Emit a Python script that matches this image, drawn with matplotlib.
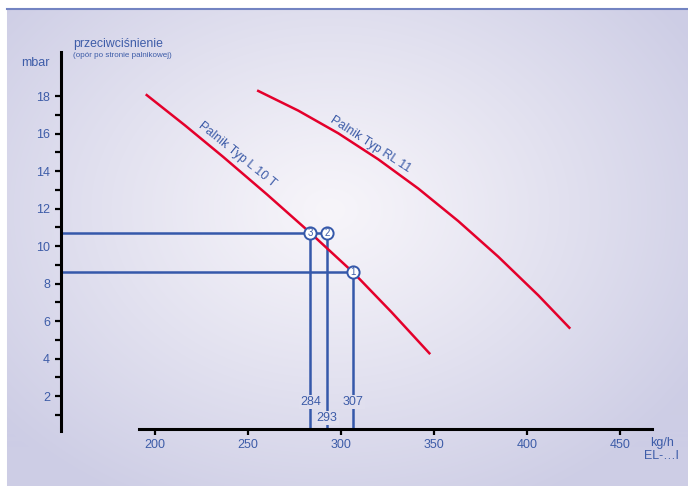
import numpy as np
import matplotlib.pyplot as plt

# curve data (flow kg/h, back pressure mbar)
l10t_flow = [195.6, 216.2, 236.7, 260.2, 283.7, 306.6, 327.0, 347.4]
l10t_mbar = [18.05, 16.43, 14.75, 12.75, 10.68, 8.58, 6.48, 4.28]
rl11_flow = [255.5, 277.0, 298.5, 320.0, 341.5, 362.9, 384.4, 405.9, 422.6]
rl11_mbar = [18.27, 17.22, 16.01, 14.62, 13.06, 11.33, 9.43, 7.37, 5.64]

# operating points
op_num = ["1", "2", "3"]
op_flow = [306.5, 292.5, 283.5]
op_mbar = [8.6, 10.68, 10.68]
op_text = ["307", "293", "284"]
op_text_y = [1.68, 0.83, 1.68]

x_ticks = [200, 250, 300, 350, 400, 450]
y_ticks = [2, 4, 6, 8, 10, 12, 14, 16, 18]
y_minor = [1, 3, 5, 7, 9, 11, 13, 15, 17]

W, H = 688, 486
blue_txt = "#3d5ca8"
blue_ln = "#3558aa"
red = "#e4002b"

plt.rcParams['font.family'] = ['Liberation Sans', 'DejaVu Sans']

fig = plt.figure(figsize=(W / 100, H / 100), dpi=100)

# background gradient
bg = fig.add_axes([0, 0, 1, 1])
yy, xx = np.mgrid[0:H, 0:W]
r = np.sqrt(((xx - 330) / 430.0) ** 2 + ((yy - 210) / 330.0) ** 2)
t = np.clip(r, 0, 1) ** 1.1
c0 = np.array([247, 245, 250]) / 255.0
c1 = np.array([205, 205, 229]) / 255.0
img = c0[None, None, :] * (1 - t[..., None]) + c1[None, None, :] * t[..., None]
img[:9, :, :] = 1.0
img[:, :7, :] = 1.0
bg.imshow(img, extent=(0, W, H, 0), aspect='auto', interpolation='bilinear')
bg.plot([7, W], [9.5, 9.5], color="#7384c2", lw=1.5)
bg.set_xlim(0, W)
bg.set_ylim(H, 0)
bg.axis('off')

# main axes mapped to pixel coordinates
ax = fig.add_axes([0, 0, 1, 1])
ax.patch.set_visible(False)
px_per_x = 1.862
px_per_y = 18.75
ax.set_xlim(200 - 154.9 / px_per_x, 200 + (W - 154.9) / px_per_x)
ax.set_ylim(-(H - 433.5) / px_per_y, 433.5 / px_per_y)

for s in ['top', 'right']:
    ax.spines[s].set_visible(False)
ax.spines['left'].set_position(('data', 149.6))
ax.spines['left'].set_bounds(0.15, 20.35)
ax.spines['bottom'].set_position(('data', 0.25))
ax.spines['bottom'].set_bounds(191.4, 467.0)
ax.spines['left'].set_linewidth(2.2)
ax.spines['bottom'].set_linewidth(2.2)

ax.set_xticks(x_ticks)
ax.set_yticks(y_ticks)
ax.set_yticks(y_minor, minor=True)
ax.tick_params(axis='both', which='both', direction='out', length=4,
               width=1.6, color='black', labelcolor=blue_txt, labelsize=9)
ax.tick_params(axis='y', pad=4)
ax.tick_params(axis='x', pad=3)

# curves
ax.plot(l10t_flow, l10t_mbar, color=red, lw=1.8, zorder=3, solid_joinstyle='round')
ax.plot(rl11_flow, rl11_mbar, color=red, lw=1.8, zorder=3, solid_joinstyle='round')
ax.text(244.0, 14.85, "Palnik Typ L 10 T", color=blue_txt, fontsize=9,
        rotation=-39, ha='center', va='center', rotation_mode='anchor')
ax.text(315.5, 15.4, "Palnik Typ RL 11", color=blue_txt, fontsize=9,
        rotation=-33, ha='center', va='center', rotation_mode='anchor')

# operating point guide lines
ax.plot([149.6, op_flow[1]], [op_mbar[1], op_mbar[1]], color=blue_ln, lw=1.8, zorder=2)
ax.plot([149.6, op_flow[0]], [op_mbar[0], op_mbar[0]], color=blue_ln, lw=1.8, zorder=2)
for i in range(3):
    ax.plot([op_flow[i], op_flow[i]], [0.25, op_mbar[i]], color=blue_ln, lw=1.8, zorder=2)
    ax.text(op_flow[i], op_text_y[i], op_text[i], color=blue_txt, fontsize=9,
            ha='center', va='center', zorder=4,
            bbox=dict(boxstyle='square,pad=0.08', fc='#e0dfee', ec='none'))
ax.plot(op_flow, op_mbar, 'o', ms=8.8, mfc='white', mec=blue_ln, mew=1.4,
        ls='none', zorder=5)
for i in range(3):
    ax.text(op_flow[i], op_mbar[i], op_num[i], color=blue_txt, fontsize=7,
            ha='center', va='center', zorder=6)

# axis titles
fig.text(50 / W, 1 - 63 / H, "mbar", color=blue_txt, fontsize=9, ha='right', va='center')
fig.text(73 / W, 1 - 44 / H, "przeciwciśnienie", color=blue_txt, fontsize=8.8,
         ha='left', va='center')
fig.text(73 / W, 1 - 55.5 / H, "(opór po stronie palnikowej)", color=blue_txt,
         fontsize=5.8, ha='left', va='center')
fig.text(662 / W, 1 - 443 / H, "kg/h", color=blue_txt, fontsize=9, ha='center', va='center')
fig.text(661 / W, 1 - 456 / H, "EL-…l", color=blue_txt, fontsize=9, ha='center', va='center')

fig.savefig("out.png", dpi=100)
